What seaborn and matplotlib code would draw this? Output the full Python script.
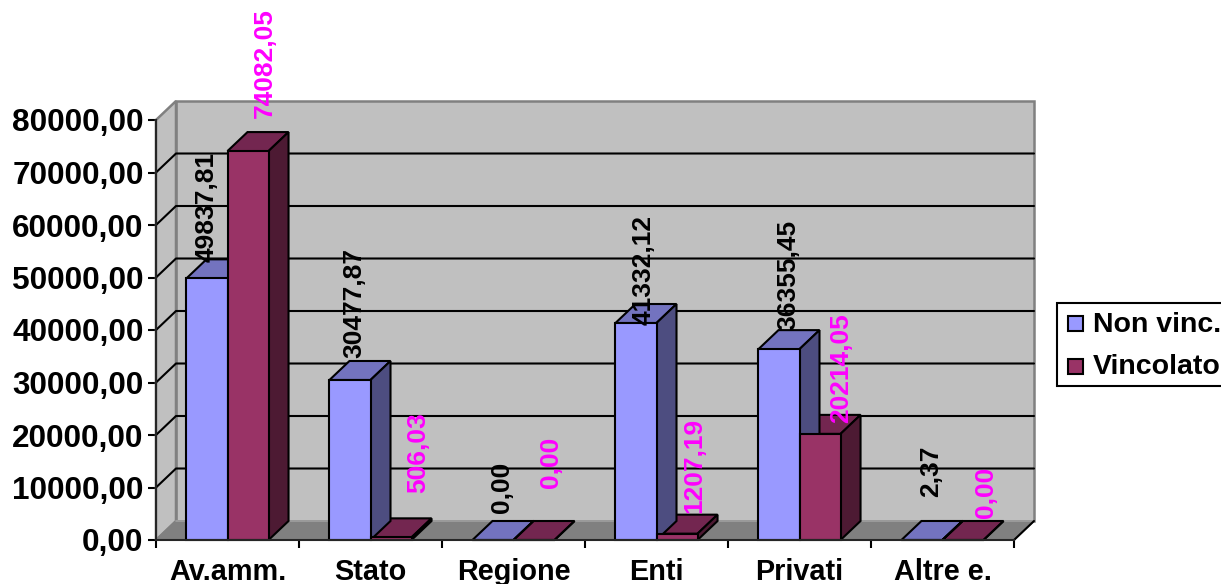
import numpy as np
import pandas as pd
import matplotlib
matplotlib.use("Agg")
import matplotlib.pyplot as plt
from matplotlib.patches import Polygon, Rectangle
import seaborn as sns

categories = ["Av.amm.", "Stato", "Regione", "Enti", "Privati", "Altre e."]
non_vinc = [49837.81, 30477.87, 0.00, 41332.12, 36355.45, 2.37]
vincolato = [74082.05, 506.03, 0.00, 1207.19, 20214.05, 0.00]
y_ticks = [0, 10000, 20000, 30000, 40000, 50000, 60000, 70000, 80000]

# hand placed value labels (pixels from category centre / pixels above the bar)
non_vinc_dx = [-20.5, -16.5, -11.5, -12.5, -11.5, -11.5]
non_vinc_gap = [-3, 3, 8, -21, 0, 24]
vincolato_dx = [37, 47.5, 37.5, 37.5, 42, 44]
vincolato_gap = [14, 25, 33, 2, -8, 3]

W, H = 1221, 584
BLUE, BLUE_TOP, BLUE_SIDE = "#9999FF", "#7373BF", "#4D4D80"
RED, RED_TOP, RED_SIDE = "#993366", "#732650", "#4D1A33"
WALL = "#C0C0C0"
FLOOR = "#808080"

def it_num(v):
    return f"{v:.2f}".replace(".", ",")

df = pd.DataFrame({
    "cat": categories * 2,
    "val": non_vinc + vincolato,
    "serie": ["Non vinc."] * 6 + ["Vincolato"] * 6,
})

sns.set_style("white")
plt.rcParams["font.family"] = ["Liberation Sans"]
plt.rcParams["font.weight"] = "bold"
plt.rcParams["text.color"] = "black"
plt.rcParams["xtick.color"] = "black"
plt.rcParams["ytick.color"] = "black"

fig = plt.figure(figsize=(W / 100, H / 100), dpi=100)
ax = fig.add_axes([156 / W, 1 - 540 / H, 858 / W, 420 / H])

# depth of the fake 3D box, in data units
dx = 20 / 143
dy = 19 / 420 * 80000
x0, x1 = -0.5, 5.5

def poly(pts, fc, z=1, lw=1.4, ec="black"):
    ax.add_patch(Polygon(pts, closed=True, facecolor=fc, edgecolor=ec,
                         linewidth=lw, clip_on=False, zorder=z))

# walls and floor
poly([(x0 + dx, dy), (x1 + dx, dy), (x1 + dx, 80000 + dy), (x0 + dx, 80000 + dy)], WALL, 0.5, 1.8, FLOOR)
poly([(x0, 0), (x0 + dx, dy), (x0 + dx, 80000 + dy), (x0, 80000)], WALL, 0.6, 1.8, FLOOR)
poly([(x0, 0), (x1, 0), (x1 + dx, dy), (x0 + dx, dy)], FLOOR, 0.7, 1.2, FLOOR)
ax.plot([x1, x1 + dx], [0, dy], color="black", lw=1.5, clip_on=False, zorder=0.9)

# grid on back and side wall
for t in y_ticks[1:-1]:
    ax.plot([x0, x0 + dx, x1 + dx], [t, t + dy, t + dy], color="black", lw=1.5,
            clip_on=False, zorder=0.8)
ax.plot([x0 + dx, x1 + dx], [dy, dy], color="#A0A0A0", lw=1.2, clip_on=False, zorder=0.8)

sns.barplot(data=df, x="cat", y="val", hue="serie", order=categories,
            palette=[BLUE, RED], width=0.574, saturation=1, legend=False,
            ax=ax, zorder=2, edgecolor="black", linewidth=1.5, clip_on=False)

ax.set_xlim(x0, x1)
ax.set_ylim(0, 80000)

# draw depth faces from the bar rectangles
bars = sorted([p for p in ax.patches if isinstance(p, Rectangle)], key=lambda p: p.get_x())
for p in bars:
    l, r, h = p.get_x(), p.get_x() + p.get_width(), p.get_height()
    is_blue = matplotlib.colors.to_hex(p.get_facecolor()).upper() == BLUE
    top, side = (BLUE_TOP, BLUE_SIDE) if is_blue else (RED_TOP, RED_SIDE)
    poly([(l, h), (r, h), (r + dx, h + dy), (l + dx, h + dy)], top, 1.8, 1.5)
    poly([(r, 0), (r + dx, dy), (r + dx, h + dy), (r, h)], side, 1.9 if is_blue else 1.8, 1.5)
    p.set_zorder(2)

# value labels, rotated like the original
label_sets = [(non_vinc, non_vinc_dx, non_vinc_gap, "black"),
              (vincolato, vincolato_dx, vincolato_gap, "#FF00FF")]
for vals, offs, gaps, col in label_sets:
    for i, v in enumerate(vals):
        ax.text(i + offs[i] / 143, v + dy + gaps[i] / 420 * 80000, it_num(v), rotation=90,
                ha="center", va="bottom", color=col, fontsize=19, fontweight="bold",
                zorder=5, clip_on=False)

for s in ["top", "right"]:
    ax.spines[s].set_visible(False)
for s in ["left", "bottom"]:
    ax.spines[s].set_linewidth(1.5)
    ax.spines[s].set_zorder(3)

ax.set_xlabel("")
ax.set_ylabel("")
ax.set_yticks(y_ticks)
ax.set_yticklabels([it_num(t) for t in y_ticks], fontsize=22.7, fontweight="bold")
ax.set_xticks(np.arange(-0.5, 6, 1), minor=False)
ax.set_xticklabels([""] * 7)
ax.tick_params(axis="both", length=6, width=1.5, direction="out", left=True, bottom=True, pad=3)
for i, cat in enumerate(categories):
    ax.text(i, -3400, cat, ha="center", va="top", fontsize=20.8, fontweight="bold", clip_on=False)

# legend box
lax = fig.add_axes([0, 0, 1, 1], zorder=10)
lax.set_xlim(0, W)
lax.set_ylim(H, 0)
lax.axis("off")
lax.patch.set_alpha(0)
lax.add_patch(Rectangle((1057, 303), 170, 83, fc="white", ec="black", lw=1.5, clip_on=False))
lax.add_patch(Rectangle((1068, 316), 15, 15, fc=BLUE, ec="black", lw=1.5))
lax.add_patch(Rectangle((1068, 359), 15, 15, fc=RED, ec="black", lw=1.5))
lax.text(1093, 325, "Non vinc.", va="center", ha="left", fontsize=20.5, fontweight="bold", clip_on=False)
lax.text(1093, 367, "Vincolato", va="center", ha="left", fontsize=20.5, fontweight="bold", clip_on=False)

fig.savefig("out.png", dpi=100, facecolor="white")
